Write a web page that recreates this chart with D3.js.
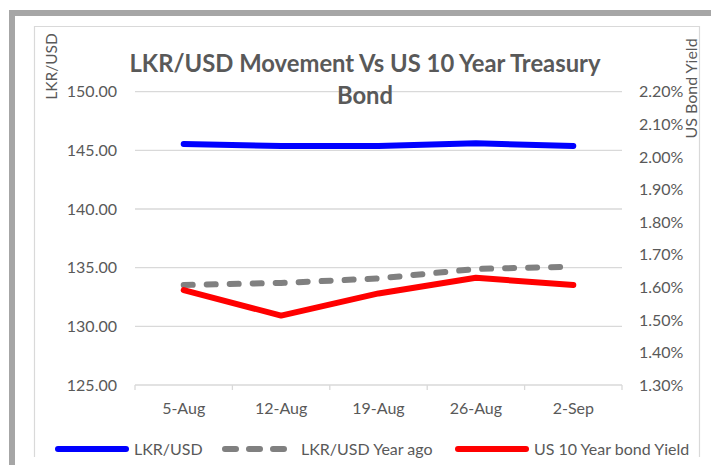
<!DOCTYPE html>
<html lang="en">
<head>
	<meta charset="utf-8">
	<title>LKR/USD Movement Vs US 10 Year Treasury Bond</title>
	<script src="https://d3js.org/d3.v7.min.js" charset="utf-8"></script>
	<style>
		body {
			margin: 0;
			background: #fff;
			font-family: "Lato", "Open Sans", sans-serif;
		}
		svg text {
			fill: #595959;
		}
	</style>
</head>
<body>
	<script>
		// Data
		var weeks = ["5-Aug", "12-Aug", "19-Aug", "26-Aug", "2-Sep"];
		var lkrUsd = [145.54, 145.37, 145.37, 145.60, 145.38];
		var lkrUsdYearAgo = [133.52, 133.70, 134.08, 134.89, 135.09];
		var usYield = [1.591, 1.513, 1.581, 1.629, 1.607];   // percent

		var leftTicks = [125, 130, 135, 140, 145, 150];
		var rightTicks = [1.3, 1.4, 1.5, 1.6, 1.7, 1.8, 1.9, 2.0, 2.1, 2.2];

		var width = 711;
		var height = 465;

		var svg = d3.select( "body" )
			.append( "svg" )
			.attr( "width", width )
			.attr( "height", height );

		// frame: thick outer border and thin inner chart border
		svg.append( "rect" )
			.attr( "x", 12 ).attr( "y", 13 )
			.attr( "width", 800 ).attr( "height", 600 )
			.attr( "fill", "none" )
			.attr( "stroke", "#a6a6a6" )
			.attr( "stroke-width", 6 );

		svg.append( "path" )
			.attr( "d", "M34.5,457V26.5H699.5V457" )
			.attr( "fill", "none" )
			.attr( "stroke", "#d9d9d9" )
			.attr( "stroke-width", 1.2 );

		// plot area
		var x = d3.scaleBand()
			.domain( weeks )
			.range( [135, 622] );

		var yLeft = d3.scaleLinear()
			.domain( [125, 150] )
			.range( [385, 91.7] );

		var yRight = d3.scaleLinear()
			.domain( [1.3, 2.2] )
			.range( [385, 91.7] );

		var cx = function( d, i ) { return x( weeks[i] ) + x.bandwidth() / 2; };

		// gridlines
		svg.append( "g" ).selectAll( "line" )
			.data( leftTicks.slice( 1 ) )
			.enter()
			.append( "line" )
			.attr( "x1", x.range()[0] ).attr( "x2", x.range()[1] )
			.attr( "y1", function( d ) { return yLeft( d ); } )
			.attr( "y2", function( d ) { return yLeft( d ); } )
			.attr( "stroke", "#d9d9d9" )
			.attr( "stroke-width", 1.3 );

		// x axis line with ticks between categories
		var xAxis = svg.append( "g" );
		xAxis.append( "line" )
			.attr( "x1", x.range()[0] ).attr( "x2", x.range()[1] )
			.attr( "y1", yLeft( 125 ) ).attr( "y2", yLeft( 125 ) )
			.attr( "stroke", "#d9d9d9" )
			.attr( "stroke-width", 1.3 );
		var bounds = weeks.map( function( w ) { return x( w ); } ).concat( [x.range()[1]] );
		xAxis.selectAll( "line.tick" )
			.data( bounds )
			.enter()
			.append( "line" )
			.attr( "class", "tick" )
			.attr( "x1", function( d ) { return d; } )
			.attr( "x2", function( d ) { return d; } )
			.attr( "y1", yLeft( 125 ) ).attr( "y2", yLeft( 125 ) + 5 )
			.attr( "stroke", "#d9d9d9" )
			.attr( "stroke-width", 1.3 );
		xAxis.selectAll( "text" )
			.data( weeks )
			.enter()
			.append( "text" )
			.attr( "x", cx )
			.attr( "y", 414 )
			.attr( "text-anchor", "middle" )
			.attr( "font-size", 16 )
			.text( function( d ) { return d; } );

		// left tick labels
		svg.append( "g" ).selectAll( "text" )
			.data( leftTicks )
			.enter()
			.append( "text" )
			.attr( "x", 117 )
			.attr( "y", function( d ) { return yLeft( d ); } )
			.attr( "dy", "0.36em" )
			.attr( "text-anchor", "end" )
			.attr( "font-size", 16 )
			.text( d3.format( ".2f" ) );

		// right tick labels
		svg.append( "g" ).selectAll( "text" )
			.data( rightTicks )
			.enter()
			.append( "text" )
			.attr( "x", 639 )
			.attr( "y", function( d ) { return yRight( d ); } )
			.attr( "dy", "0.36em" )
			.attr( "text-anchor", "start" )
			.attr( "font-size", 16 )
			.text( function( d ) { return d3.format( ".2f" )( d ) + "%"; } );

		// axis titles
		svg.append( "text" )
			.attr( "transform", "translate(57,66.5) rotate(-90)" )
			.attr( "text-anchor", "middle" )
			.attr( "font-size", 15.5 )
			.text( "LKR/USD" );

		svg.append( "text" )
			.attr( "transform", "translate(697,88.5) rotate(-90)" )
			.attr( "text-anchor", "middle" )
			.attr( "font-size", 16 )
			.text( "US Bond Yield" );

		// title
		var title = svg.append( "text" )
			.attr( "text-anchor", "middle" )
			.attr( "font-weight", "bold" )
			.attr( "font-size", 23.8 );
		title.append( "tspan" )
			.attr( "x", 365 ).attr( "y", 72 )
			.text( "LKR/USD Movement Vs US 10 Year Treasury" );
		title.append( "tspan" )
			.attr( "x", 365 ).attr( "y", 104 )
			.text( "Bond" );

		// series lines
		var lineLeft = d3.line()
			.x( cx )
			.y( function( d ) { return yLeft( d ); } );
		var lineRight = d3.line()
			.x( cx )
			.y( function( d ) { return yRight( d ); } );

		svg.append( "path" )
			.datum( lkrUsdYearAgo )
			.attr( "d", lineLeft )
			.attr( "fill", "none" )
			.attr( "stroke", "#808080" )
			.attr( "stroke-width", 6 )
			.attr( "stroke-linecap", "round" )
			.attr( "stroke-dasharray", "9,14" );

		svg.append( "path" )
			.datum( usYield )
			.attr( "d", lineRight )
			.attr( "fill", "none" )
			.attr( "stroke", "#ff0000" )
			.attr( "stroke-width", 6 )
			.attr( "stroke-linecap", "round" )
			.attr( "stroke-linejoin", "round" );

		svg.append( "path" )
			.datum( lkrUsd )
			.attr( "d", lineLeft )
			.attr( "fill", "none" )
			.attr( "stroke", "#0000ff" )
			.attr( "stroke-width", 6 )
			.attr( "stroke-linecap", "round" )
			.attr( "stroke-linejoin", "round" );

		// legend
		var legendItems = [
			{ name: "LKR/USD", color: "#0000ff", dash: null, x: 58 },
			{ name: "LKR/USD Year ago", color: "#808080", dash: "11,13", x: 225 },
			{ name: "US 10 Year bond Yield", color: "#ff0000", dash: null, x: 458 }
		];
		var legend = svg.append( "g" ).selectAll( "g" )
			.data( legendItems )
			.enter()
			.append( "g" )
			.attr( "transform", function( d ) { return "translate(" + d.x + ",449)"; } );
		legend.append( "line" )
			.attr( "x1", 0 ).attr( "x2", 68 )
			.attr( "stroke", function( d ) { return d.color; } )
			.attr( "stroke-width", 6 )
			.attr( "stroke-linecap", "round" )
			.attr( "stroke-dasharray", function( d ) { return d.dash; } );
		legend.append( "text" )
			.attr( "x", 76 )
			.attr( "dy", "0.36em" )
			.attr( "font-size", 16 )
			.text( function( d ) { return d.name; } );
	</script>
</body>
</html>
